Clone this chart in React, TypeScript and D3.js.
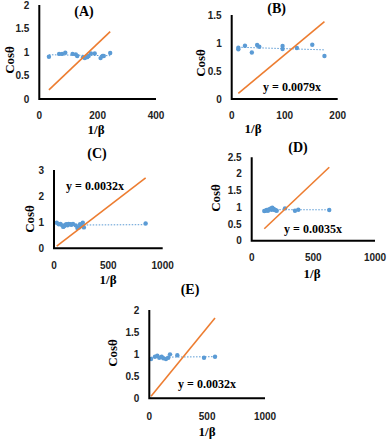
import React from "react";
import * as d3 from "d3";

// panel data
const titles = ["(A)", "(B)", "(C)", "(D)", "(E)"];
const equations = ["", "y = 0.0079x", "y = 0.0032x", "y = 0.0035x", "y = 0.0032x"];
const slopes = [0.0059, 0.0079, 0.0032, 0.0035, 0.0032];

const xTicks = [
  [0, 200, 400],
  [0, 100, 200],
  [0, 500, 1000],
  [0, 500, 1000],
  [0, 500, 1000],
];
const yTicks = [
  [0, 0.5, 1, 1.5, 2],
  [0, 0.5, 1, 1.5],
  [0, 1, 2, 3],
  [0, 0.5, 1, 1.5, 2, 2.5],
  [0, 0.5, 1, 1.5, 2],
];

const aX = [33, 68, 78, 89, 114, 125, 130, 150, 156, 164, 169, 177, 190, 210, 217, 221, 243];
const aY = [0.9, 0.96, 0.96, 0.985, 0.96, 0.95, 0.915, 0.89, 0.87, 0.89, 0.915, 0.97, 0.97, 0.87, 0.915, 0.915, 0.98];

const bX = [12.5, 12.5, 25, 38, 48, 52, 96, 96, 123, 152, 175];
const bY = [0.887, 0.917, 0.952, 0.83, 0.964, 0.934, 0.946, 0.893, 0.91, 0.97, 0.768];

const cX = [25, 45, 60, 75, 85, 95, 105, 115, 125, 135, 150, 160, 175, 200, 215, 230, 240, 255, 265, 275, 843];
const cY = [0.98, 0.92, 0.93, 0.88, 0.82, 0.85, 0.9, 0.92, 0.88, 0.93, 0.92, 0.9, 0.93, 0.88, 0.78, 0.8, 0.92, 0.85, 0.98, 0.8, 0.95];

const dX = [102, 112, 122, 132, 140, 150, 157, 162, 167, 172, 178, 185, 189, 196, 203, 270, 351, 378, 629];
const dY = [0.89, 0.9, 0.92, 0.9, 0.94, 0.95, 0.97, 0.93, 0.99, 0.96, 0.95, 0.93, 0.92, 0.91, 0.9, 0.97, 0.9, 0.93, 0.92];

const eX = [15, 49, 69, 86, 107, 121, 144, 164, 179, 242, 473, 568];
const eY = [0.89, 0.94, 0.965, 0.92, 0.94, 0.906, 0.89, 0.92, 0.996, 0.974, 0.92, 0.94];

const seriesX = [aX, bX, cX, dX, eX];
const seriesY = [aY, bY, cY, dY, eY];

// where each panel sits on the page
const layout = [
  { px0: 39.3, px1: 156, py0: 99, py1: 5, title: [84, 11], ylab: [9, 60], xlab: [96, 129], eq: [0, 0], tickY: 115 },
  { px0: 231.7, px1: 337.7, py0: 99, py1: 15, title: [276.7, 8], ylab: [200, 63], xlab: [253, 128], eq: [292, 87], tickY: 115 },
  { px0: 54, px1: 162.7, py0: 248.3, py1: 170, title: [97, 153], ylab: [29, 219], xlab: [108, 279], eq: [95, 186], tickY: 265 },
  { px0: 251.7, px1: 375, py0: 240.7, py1: 157.3, title: [298, 147], ylab: [215, 198], xlab: [312, 273], eq: [313, 229], tickY: 257 },
  { px0: 149.3, px1: 265, py0: 398.3, py1: 310, title: [190, 289], ylab: [112, 353], xlab: [207, 431], eq: [207, 384], tickY: 416 },
];

const ORANGE = "#ED7D31";
const BLUE = "#5B9BD5";
const serif = "'Liberation Serif', 'Times New Roman', serif";
const sans = "'Liberation Sans', Arial, sans-serif";

function Panel({ i }: { i: number }) {
  const L = layout[i];
  const xs = xTicks[i];
  const ys = yTicks[i];
  const x = d3.scaleLinear().domain([0, xs[xs.length - 1]]).range([L.px0, L.px1]);
  const y = d3.scaleLinear().domain([0, ys[ys.length - 1]]).range([L.py0, L.py1]);
  const X = seriesX[i];
  const Y = seriesY[i];
  const pts: [number, number][] = X.map((v, k) => [v, Y[k]]);
  const [xmin, xmax] = d3.extent(X) as [number, number];

  // linear trend through the points
  const mx = d3.mean(X)!;
  const my = d3.mean(Y)!;
  const b = d3.sum(pts, p => (p[0] - mx) * (p[1] - my)) / d3.sum(pts, p => (p[0] - mx) ** 2);
  const a = my - b * mx;
  const line = d3.line<[number, number]>().x(p => x(p[0])).y(p => y(p[1]));

  return (
    <g>
      {ys.map(t => (
        <text key={"y" + t} x={L.px0 - 10} y={y(t)} textAnchor="end" dominantBaseline="central"
          fontFamily={sans} fontWeight="bold" fontSize={10} fill="#222">{t}</text>
      ))}
      {xs.map(t => (
        <text key={"x" + t} x={x(t)} y={L.tickY} textAnchor="middle" dominantBaseline="central"
          fontFamily={sans} fontWeight="bold" fontSize={10} fill="#222">{t}</text>
      ))}
      <path d={line([[xmin, a + b * xmin], [xmax, a + b * xmax]])!} stroke={BLUE} strokeWidth={1}
        strokeDasharray="1.5,1.5" fill="none" />
      {pts.map((p, k) => (
        <circle key={k} cx={x(p[0])} cy={y(p[1])} r={2.2} fill={BLUE} />
      ))}
      <path d={line([[xmin, slopes[i] * xmin], [xmax, slopes[i] * xmax]])!} stroke={ORANGE}
        strokeWidth={1.6} fill="none" />
      <path d={`M${L.px0},${L.py1}V${L.py0}H${L.px1}`} stroke="#000" strokeWidth={2} fill="none" />
      <text x={L.title[0]} y={L.title[1]} textAnchor="middle" dominantBaseline="central"
        fontFamily={serif} fontWeight="bold" fontSize={14}>{titles[i]}</text>
      <text transform={`translate(${L.ylab[0]},${L.ylab[1]}) rotate(-90)`} textAnchor="middle"
        dominantBaseline="central" fontFamily={serif} fontWeight="bold" fontSize={13}>Cosθ</text>
      <text x={L.xlab[0]} y={L.xlab[1]} textAnchor="middle" dominantBaseline="central"
        fontFamily={serif} fontWeight="bold" fontSize={13}>1/β</text>
      {equations[i] && (
        <text x={L.eq[0]} y={L.eq[1]} textAnchor="middle" dominantBaseline="central"
          fontFamily={serif} fontWeight="bold" fontSize={12}>{equations[i]}</text>
      )}
    </g>
  );
}

export default function App() {
  return (
    <svg width={387} height={439} style={{ position: "absolute", left: 0, top: 0, background: "#fff" }}>
      {titles.map((_, i) => <Panel key={i} i={i} />)}
    </svg>
  );
}
